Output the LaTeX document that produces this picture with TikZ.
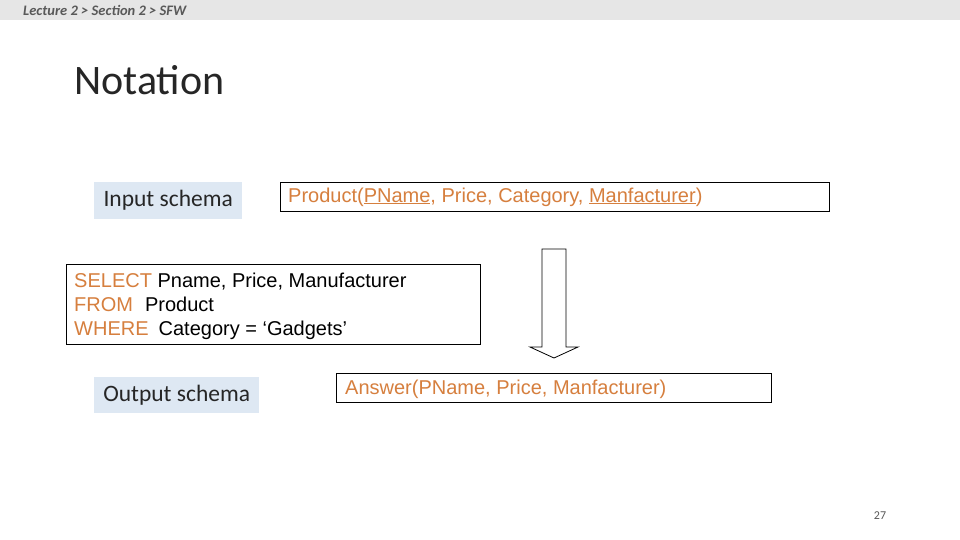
\documentclass[tikz,border=0pt]{standalone}
\usepackage{fontspec}
\setmainfont{Carlito}
\newfontfamily\arialf{Liberation Sans}
\definecolor{barg}{RGB}{230,230,230}
\definecolor{hdrg}{RGB}{89,89,89}
\definecolor{boxblue}{RGB}{222,232,243}
\definecolor{sqlor}{RGB}{214,127,62}
\begin{document}
\begin{tikzpicture}[x=1pt,y=-1pt,
  lbl/.style={fill=boxblue,inner sep=0pt,minimum height=37pt,font=\fontsize{23.5}{26}\selectfont,text=black!85},
  arialtxt/.style={anchor=base west,inner sep=0pt,font=\arialf\fontsize{20}{24}\selectfont}]
\useasboundingbox (0,0) rectangle (960,540);
\fill[white] (0,0) rectangle (960,540);
\fill[barg] (0,0) rectangle (960,20);
\node[anchor=west,text=hdrg,font=\bfseries\itshape\fontsize{14.5}{16}\selectfont,inner sep=0pt] (hdr) at (23,10) {Lecture 2 > Section 2 > SFW};
\node[anchor=base west,inner sep=0pt,font=\fontsize{42}{48}\selectfont,text=black!85] (title) at (74,95) {Notation};
% input schema
\node[lbl,minimum width=148pt,anchor=north west] (inlbl) at (94,182) {Input schema};
\draw[line width=0.9pt] (280,182) rectangle (829,211);
\node[arialtxt,text=sqlor] (prod) at (288,202) {Product(\underline{PName}, Price, Category, \underline{Manfacturer})};
% SQL box
\draw[line width=0.9pt] (66,264) rectangle (480,344);
\node[arialtxt] (sql1) at (74,287) {\textcolor{sqlor}{SELECT} Pname, Price, Manufacturer};
\node[arialtxt] (sql2) at (74,311) {\textcolor{sqlor}{FROM}\hspace{0.6em}Product};
\node[arialtxt] (sql3) at (74,335) {\textcolor{sqlor}{WHERE}\hspace{0.5em}Category = ‘Gadgets’};
% block arrow
\draw[line width=0.8pt,fill=white,line join=miter] (542,249) -- (566,249) -- (566,347) -- (578,347) -- (554,358) -- (530,347) -- (542,347) -- cycle;
% output schema
\node[lbl,minimum width=165pt,anchor=north west,minimum height=36pt] (outlbl) at (94,377) {Output schema};
\draw[line width=0.9pt] (336,373) rectangle (771,402);
\node[arialtxt,text=sqlor] (ans) at (345,394) {Answer(PName, Price, Manfacturer)};
\node[anchor=base,inner sep=0pt,font=\fontsize{12}{14}\selectfont,text=hdrg] (pg) at (880,519) {27};
\end{tikzpicture}
\end{document}
